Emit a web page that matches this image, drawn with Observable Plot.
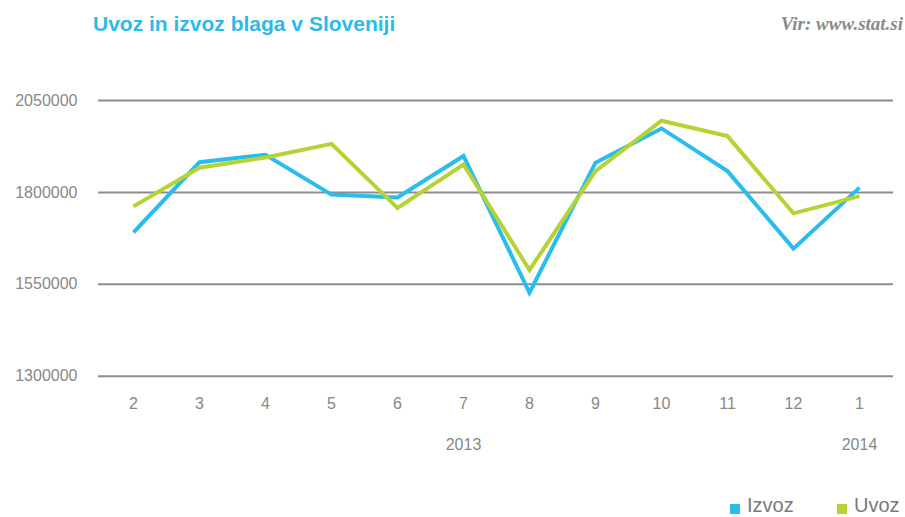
<!DOCTYPE html>
<html>
<head>
<meta charset="utf-8">
<script src="https://cdn.jsdelivr.net/npm/d3@7"></script>
<script src="https://cdn.jsdelivr.net/npm/@observablehq/plot@0.6"></script>
<style>
  html, body { margin: 0; padding: 0; background: #fff; }
  #wrap { position: relative; width: 905px; height: 517px; overflow: hidden; font-family: "Liberation Sans", Arial, Helvetica, sans-serif; }
  #chart { position: absolute; left: 0; top: 0; }
  #title { position: absolute; left: 93px; top: 12px; font-size: 21px; font-weight: bold; color: #2bbaea; white-space: nowrap; }
  #source { position: absolute; right: 2px; top: 13px; font-family: "Liberation Serif", "Times New Roman", serif; font-style: italic; font-weight: bold; font-size: 19px; color: #8a8a8a; white-space: nowrap; }
  .sw { position: absolute; width: 10px; height: 10px; top: 504px; }
  .lt { position: absolute; top: 496px; font-size: 20px; line-height: 18px; color: #7a7a7a; white-space: nowrap; }
</style>
</head>
<body>
<div id="wrap">
  <div id="chart"></div>
  <div id="title">Uvoz in izvoz blaga v Sloveniji</div>
  <div id="source">Vir: www.stat.si</div>
</div>
<script>
const months = ["2","3","4","5","6","7","8","9","10","11","12","1"];
const izvoz = [1691000,1882000,1902500,1794000,1786000,1899000,1527000,1881000,1974000,1858000,1647000,1813000];
const uvoz  = [1762000,1867000,1895000,1932000,1758000,1876000,1589000,1858000,1995000,1953000,1743000,1790000];
const seriesNames = ["Izvoz","Uvoz"];
const seriesColors = ["#29bdef","#b5d334"];
const yTicks = [1300000,1550000,1800000,2050000];
const yearLabels = [{month: "7", label: "2013"}, {month: "1", label: "2014"}];

const data = [];
months.forEach((m, i) => data.push({month: m, value: izvoz[i], series: "Izvoz"}));
months.forEach((m, i) => data.push({month: m, value: uvoz[i], series: "Uvoz"}));

const chart = Plot.plot({
  width: 905,
  height: 480,
  marginTop: 100,
  marginBottom: 104.3,
  marginLeft: 98,
  marginRight: 12,
  style: {fontFamily: "'Liberation Sans', Arial, sans-serif", fontSize: "16px", color: "#888", background: "transparent"},
  x: {type: "point", domain: months, padding: 0.5, label: null},
  y: {domain: [1300000, 2050000], label: null},
  color: {domain: seriesNames, range: seriesColors},
  marks: [
    Plot.ruleY(yTicks, {stroke: "#8d8d8d", strokeWidth: 2}),
    Plot.axisY({ticks: yTicks, tickSize: 0, tickPadding: 21, tickFormat: d => String(d), fill: "#888", fontSize: 16, label: null}),
    Plot.axisX({tickSize: 0, tickPadding: 21, fill: "#888", fontSize: 16, label: null}),
    Plot.text(yearLabels, {x: "month", text: "label", frameAnchor: "bottom", dy: 69, fill: "#888", fontSize: 16, lineAnchor: "middle"}),
    Plot.line(data, {x: "month", y: "value", stroke: "series", z: "series", strokeWidth: 4, strokeLinejoin: "miter", strokeLinecap: "butt", strokeMiterlimit: 10})
  ]
});
document.getElementById("chart").appendChild(chart);

const wrap = document.getElementById("wrap");
const legendX = [730, 837];
seriesNames.forEach((name, i) => {
  const sw = document.createElement("div");
  sw.className = "sw";
  sw.style.left = legendX[i] + "px";
  sw.style.background = seriesColors[i];
  wrap.appendChild(sw);
  const t = document.createElement("div");
  t.className = "lt";
  t.style.left = (legendX[i] + 17) + "px";
  t.textContent = name;
  wrap.appendChild(t);
});
</script>
</body>
</html>
